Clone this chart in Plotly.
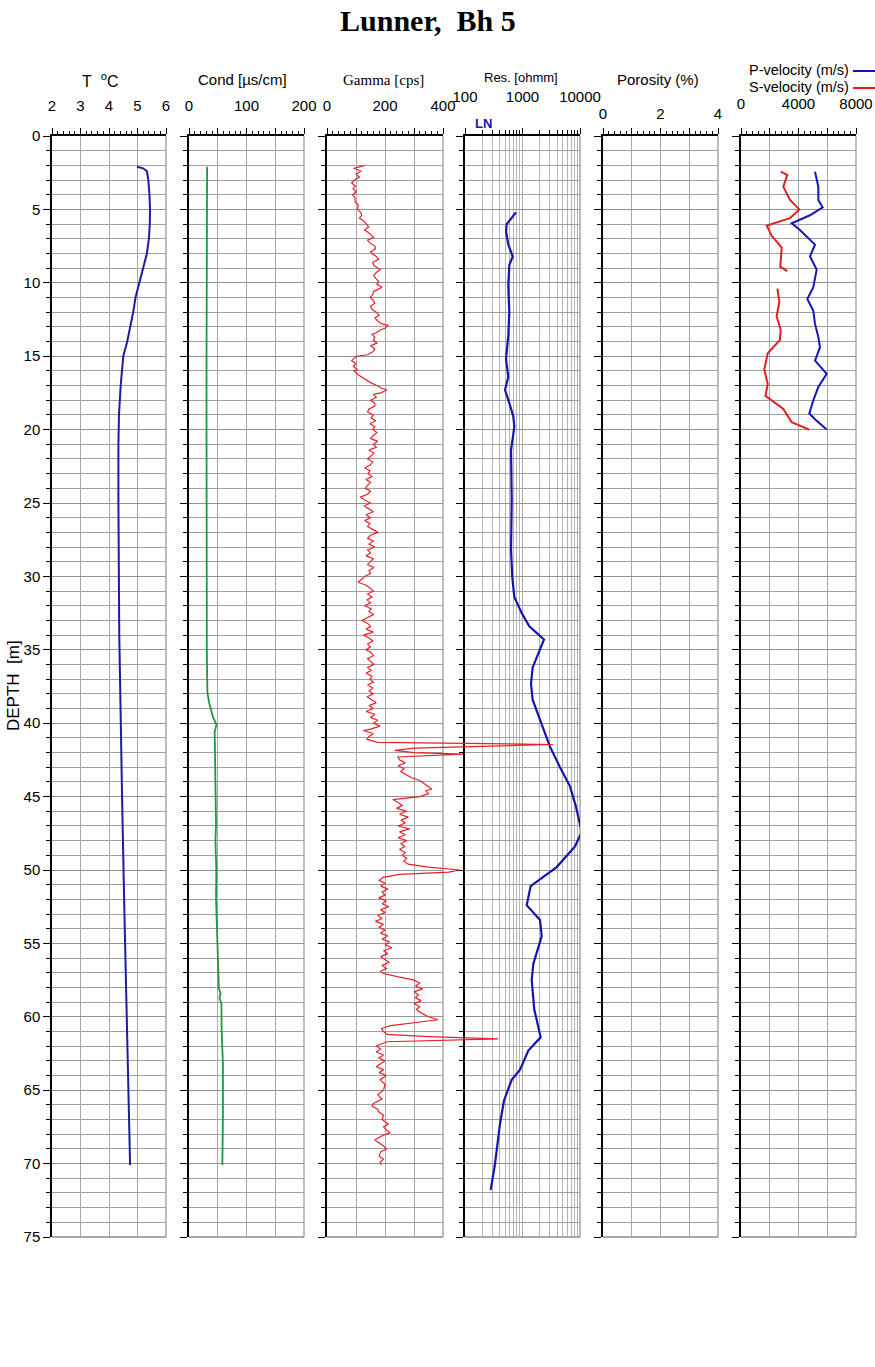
import plotly.graph_objects as go

# ---------------- data ----------------
temp_depth = [2.1, 2.2, 2.4, 3.0, 4.0, 5.0, 6.0, 7.0, 8.0, 9.0, 10.0, 11.0, 12.0, 13.4, 14.0,
              15.0, 16.0, 17.0, 19.0, 21.0, 25.0, 29.5, 34.0, 38.4, 40.0, 45.2, 52.0, 58.9, 65.7, 70.1]
temp_val = [4.98, 5.2, 5.33, 5.38, 5.42, 5.44, 5.43, 5.40, 5.33, 5.2, 5.06, 4.93, 4.85, 4.71, 4.64,
            4.50, 4.45, 4.41, 4.35, 4.33, 4.33, 4.34, 4.36, 4.40, 4.42, 4.46, 4.53, 4.62, 4.70, 4.74]

cond_depth = [2.1, 5, 10, 15, 20, 25, 30, 35, 37.9, 38.6, 39.2, 39.6, 40.1, 40.6, 41.5, 42.9, 44,
              46.9, 48, 50, 52, 54.3, 56, 57.2, 58.1, 58.4, 58.7, 59.1, 60.9, 63.2, 65.5, 66.9, 68.5, 70.1]
cond_val = [31.5, 31, 30.5, 30.5, 30.5, 30.5, 30.8, 31, 32, 35, 39, 42, 47.7, 44.6, 45, 45.4, 46,
            47, 46, 47.5, 47, 48.9, 49.5, 50.6, 52, 55, 53, 56.4, 56.7, 59, 59.4, 59, 58.5, 58]

gamma_depth = [
    2.0, 2.2, 2.4, 2.6, 2.8, 3.0, 3.2, 3.4, 3.6, 3.8, 4.0, 4.2, 4.5, 4.7, 5.0, 5.2, 5.4, 5.6, 5.8, 6.0,
    6.2, 6.4, 6.5, 6.7, 6.9, 7.1, 7.3, 7.5, 7.7, 7.9, 8.0, 8.2, 8.4, 8.6, 8.8, 9.0, 9.1, 9.3, 9.5, 9.7,
    9.9, 10.1, 10.3, 10.5, 10.6, 10.8, 11.0, 11.2, 11.4, 11.6, 11.8, 12.0, 12.2, 12.4, 12.6, 12.8, 12.9,
    13.1, 13.2, 13.4, 13.5, 13.7, 13.9, 14.1, 14.3, 14.5, 14.7, 14.9, 15.0, 15.2, 15.3, 15.5, 15.7, 15.9,
    16.0, 16.3, 16.5, 16.8, 17.0, 17.2, 17.3, 17.5, 17.6, 17.8, 18.0,
    18.2, 18.4, 18.6, 18.8, 19.0, 19.2, 19.4, 19.6, 19.8, 20.0, 20.2, 20.4, 20.6, 20.8, 21.0, 21.2, 21.4,
    21.6, 21.8, 22.0, 22.2, 22.4, 22.6, 22.8, 23.0, 23.2, 23.4, 23.6, 23.8, 24.0, 24.2, 24.4, 24.6, 24.8,
    25.0, 25.2, 25.4, 25.6, 25.8, 26.0, 26.2, 26.4, 26.6, 26.8, 27.0, 27.2, 27.4, 27.6, 27.8, 28.0, 28.2,
    28.4, 28.6, 28.8, 29.0, 29.2, 29.4, 29.6, 29.8, 30.0, 30.2, 30.4, 30.6, 30.8, 31.0, 31.2, 31.4, 31.6,
    31.8, 32.0, 32.2, 32.4, 32.6, 32.8, 33.0, 33.2, 33.4, 33.6, 33.8, 34.0, 34.2, 34.4, 34.6, 34.8, 35.0,
    35.2, 35.4, 35.6, 35.8, 36.0, 36.2, 36.4, 36.6, 36.8, 37.0, 37.2, 37.4, 37.6, 37.8,
    38.0, 38.2, 38.4, 38.6, 38.8, 39.0, 39.2, 39.4, 39.6, 39.8, 40.0, 40.2, 40.4, 40.5, 40.7, 40.9, 41.1,
    41.3, 41.45, 41.55, 41.7, 41.85, 42.0, 42.1, 42.2, 42.3, 42.5, 42.7, 42.9, 43.1, 43.3, 43.5, 43.7,
    43.9, 44.1, 44.3, 44.5, 44.6, 44.8, 45.0, 45.2, 45.4, 45.6, 45.8, 46.0, 46.2, 46.4, 46.6, 46.8, 47.0,
    47.2, 47.4, 47.6, 47.8, 48.0, 48.2, 48.4, 48.6, 48.8, 49.0, 49.2, 49.4, 49.6, 49.8, 50.0, 50.15,
    50.3, 50.5, 50.7, 50.9, 51.1, 51.3, 51.5, 51.7, 51.9, 52.1, 52.3, 52.5, 52.7, 52.9, 53.1, 53.3,
    53.5, 53.7, 53.9, 54.1, 54.3, 54.5, 54.7, 54.9, 55.1, 55.3, 55.5, 55.7, 55.9, 56.1, 56.3, 56.5,
    56.7, 56.9, 57.05, 57.3, 57.5, 57.7, 57.9, 58.1, 58.3, 58.5, 58.7, 58.9, 59.1, 59.3, 59.5, 59.8,
    60.0, 60.2, 60.4, 60.6, 60.8, 61.0, 61.2, 61.35, 61.5, 61.6, 61.7, 61.9, 62.0,
    62.2, 62.4, 62.6, 62.8, 63.0, 63.2, 63.4, 63.6, 63.8, 64.0, 64.3, 64.6, 65.0, 65.3, 65.6, 65.9,
    66.1, 66.3, 66.5, 66.7, 67.0, 67.3, 67.5, 67.7, 67.9, 68.1, 68.4, 68.6, 68.8, 69.0, 69.2, 69.5,
    69.7, 69.9, 70.1]
gamma_val = [
    131, 92, 118, 100, 112, 95, 85, 98, 90, 102, 88, 96, 97, 108, 105, 116, 120, 112, 128, 135,
    144, 128, 138, 150, 161, 140, 149, 165, 167, 150, 155, 170, 178, 158, 161, 175, 184, 170, 161, 168,
    178, 172, 190, 170, 160, 158, 149, 160, 165, 150, 155, 170, 180, 165, 175, 190, 211,
    200, 185, 170, 155, 165, 160, 172, 150, 165, 158, 140, 103, 90, 85, 100, 91, 105,
    93, 110, 126, 150, 172, 190, 207, 185, 160, 170, 150,
    165, 165, 145, 140, 160, 152, 168, 148, 165, 158, 172, 160, 150, 175, 160, 170, 145,
    162, 150, 140, 158, 150, 130, 148, 142, 155, 135, 150, 140, 132, 150, 140, 115, 130,
    150, 128, 145, 160, 135, 150, 130, 148, 140, 160, 176, 150, 140, 160, 145, 165, 140,
    150, 135, 160, 150, 140, 162, 145, 150, 130, 120, 107, 135, 150, 160, 140, 155, 138,
    150, 130, 152, 145, 160, 140, 120, 140, 150, 135, 160, 125, 145, 158, 140, 150, 135,
    152, 160, 140, 150, 162, 140, 152, 135, 155, 148, 160, 140, 158, 145,
    160, 138, 155, 170, 145, 160, 135, 165, 150, 175, 160, 183, 150, 125, 160, 145, 138,
    175, 780, 600, 300, 234, 300, 469, 360, 244, 250, 270, 245, 265, 255, 275, 290,
    320, 335, 350, 362, 340, 350, 320, 227, 245, 260, 240, 275, 250, 280, 255, 270, 245,
    285, 250, 270, 245, 275, 255, 268, 250, 270, 260, 275, 265, 280, 350, 458, 420,
    250, 193, 180, 200, 185, 210, 190, 200, 178, 205, 190, 213, 185, 200, 175, 190,
    167, 195, 180, 200, 185, 210, 190, 215, 200, 224, 195, 210, 185, 200, 215, 190,
    205, 185, 195, 250, 300, 320, 305, 330, 300, 315, 305, 325, 300, 320, 308, 330,
    350, 383, 300, 220, 188, 195, 207, 350, 590, 400, 207, 180, 170,
    185, 170, 195, 178, 200, 185, 170, 195, 180, 205, 183, 200, 195, 175, 190, 160,
    155, 175, 180, 195, 190, 211, 195, 205, 217, 190, 165, 180, 195, 205, 185, 180,
    195, 183, 187]

res_depth = [5.2, 6.0, 6.5, 7.4, 8.2, 8.8, 10.2, 12.0, 13.6, 15.2, 16.4, 17.3, 18.2, 19.1, 19.8, 21.4,
             24.8, 28.2, 30.0, 31.4, 32.5, 33.4, 34.3, 35.3, 36.2, 37.3, 38.4, 40.5, 41.6, 43.0, 44.3,
             45.7, 47.4, 48.4, 49.8, 51.1, 52.4, 53.4, 54.5, 56.4, 57.5, 59.5, 61.4, 62.3, 63.6, 64.3,
             65.7, 67.3, 70.0, 71.8]
res_val = [771, 531, 517, 567, 675, 590, 566, 590, 566, 517, 566, 497, 590, 692, 721, 632,
           649, 632, 662, 721, 968, 1313, 2366, 1884, 1503, 1405, 1500, 2366, 3006, 4490, 6700,
           8520, 10700, 8190, 3930, 1387, 1183, 2015, 2160, 1542, 1445, 1603, 2070, 1262, 905, 649,
           477, 406, 333, 280]

vp_depth = [2.43, 3.45, 4.36, 4.86, 5.4, 5.95, 6.4, 7.4, 8.2, 9.1, 10.3, 11.1, 11.9, 12.8, 13.7,
            14.4, 15.3, 16.2, 17.1, 18.0, 18.9, 19.3, 20.0]
vp_val = [5148, 5380, 5380, 5680, 4800, 3525, 4100, 5148, 4800, 5265, 5030, 4615, 5030, 5148, 5380,
          5495, 5150, 5960, 5380, 5030, 4750, 5148, 5960]

vs_depth = [2.43, 2.65, 3.45, 4.36, 5.0, 5.6, 6.1, 6.8, 7.6, 8.2, 8.9, 9.2, 9.8,
            10.4, 11.3, 12.3, 13.2, 13.9, 14.8, 15.9, 16.9, 17.7, 18.6, 19.5, 20.0]
vs_val = [2760, 3220, 2945, 3410, 4060, 3410, 1790, 2140, 2830, 2760, 2730, 3220, None,
          2530, 2670, 2480, 2760, 2700, 1860, 1620, 1860, 1700, 2945, 3525, 4750]

depth_ticks = list(range(0, 80, 5))
t_ticks = [2, 3, 4, 5, 6]
cond_ticks = [0, 50, 100, 150, 200]
cond_labels = ["0", "", "100", "", "200"]
gamma_ticks = [0, 100, 200, 300, 400]
gamma_labels = ["0", "", "200", "", "400"]
res_ticks = [100, 1000, 10000]
res_labels = ["100", "1000", "10000"]
por_ticks = [0, 1, 2, 3, 4]
por_labels = ["0", "", "2", "", "4"]
vel_ticks = [0, 2000, 4000, 6000, 8000]
vel_labels = ["0", "", "4000", "", "8000"]

# ---------------- layout helpers ----------------
W, H = 875, 1367
tracks_px = [(52, 166), (189, 304), (327, 443), (465, 580), (603, 718), (741, 856)]
TOP_PX, BOT_PX = 136, 1237
ydom = [1 - BOT_PX / H, 1 - TOP_PX / H]


def fx(px):
    return px / W


def fy(py):
    return 1 - py / H


SANS = "Liberation Sans, Arial, sans-serif"
SERIF = "Liberation Serif, Times New Roman, serif"

fig = go.Figure()

fig.add_trace(go.Scatter(x=temp_val, y=temp_depth, mode="lines", xaxis="x", yaxis="y",
                         line=dict(color="#1c1ca0", width=2)))
fig.add_trace(go.Scatter(x=cond_val, y=cond_depth, mode="lines", xaxis="x2", yaxis="y2",
                         line=dict(color="#23973f", width=1.8)))
fig.add_trace(go.Scatter(x=[None], y=[None], mode="lines", xaxis="x3", yaxis="y3"))
fig.add_trace(go.Scatter(x=res_val, y=res_depth, mode="lines", xaxis="x4", yaxis="y4",
                         line=dict(color="#1414b0", width=2.2)))
fig.add_trace(go.Scatter(x=[None], y=[None], mode="lines", xaxis="x5", yaxis="y5"))
fig.add_trace(go.Scatter(x=vp_val, y=vp_depth, mode="lines", xaxis="x6", yaxis="y6",
                         line=dict(color="#1515b5", width=2)))
fig.add_trace(go.Scatter(x=vs_val, y=vs_depth, mode="lines", xaxis="x6", yaxis="y6",
                         connectgaps=False, line=dict(color="#e02020", width=2)))
# gamma drawn on a wider hidden axis with the same scale so its spikes may run past its track
fig.add_trace(go.Scatter(x=gamma_val, y=gamma_depth, mode="lines", xaxis="x7", yaxis="y7",
                         line=dict(color="#e4222a", width=1.2)))

tickfont = dict(family=SANS, size=15, color="black")


def xaxis_cfg(i, rng, tickvals, ticktext, minor_dtick, standoff, log=False):
    l, r = tracks_px[i]
    cfg = dict(domain=[fx(l), fx(r)], anchor="y" if i == 0 else "y%d" % (i + 1),
               side="top", showline=True, linecolor="black", linewidth=1.5,
               ticks="outside", ticklen=6, tickwidth=1.2, tickcolor="black",
               tickvals=tickvals, ticktext=ticktext, tickfont=tickfont,
               ticklabelstandoff=standoff, automargin=False,
               showgrid=True, gridcolor="#a8a8a8", gridwidth=1, zeroline=False,
               fixedrange=True)
    if log:
        cfg.update(type="log", range=rng,
                   minor=dict(dtick="D1", ticks="outside", ticklen=4, tickcolor="black",
                              showgrid=True, gridcolor="#b4b4b4", gridwidth=1))
    else:
        cfg.update(range=rng,
                   minor=dict(dtick=minor_dtick, ticks="outside", ticklen=3, tickcolor="black",
                              showgrid=False))
    return cfg


def yaxis_cfg(i):
    cfg = dict(domain=ydom, anchor="x" if i == 0 else "x%d" % (i + 1),
               range=[75, 0], showline=True, linecolor="black", linewidth=1.5,
               ticks="outside", ticklen=7, tickwidth=1.2, tickcolor="black",
               tickvals=depth_ticks, showticklabels=(i == 0), tickfont=tickfont,
               automargin=False,
               showgrid=True, gridcolor="#939393", gridwidth=1.3, zeroline=False,
               minor=dict(dtick=1, tick0=0, ticks="outside", ticklen=4, tickcolor="black",
                          showgrid=True, gridcolor="#a0a0a0", gridwidth=1.3),
               fixedrange=True)
    if i > 0:
        cfg["matches"] = "y"
    return cfg


layout = dict(
    width=W, height=H, margin=dict(l=0, r=0, t=0, b=0, autoexpand=False),
    paper_bgcolor="white", plot_bgcolor="rgba(0,0,0,0)", showlegend=False,
    xaxis=xaxis_cfg(0, [2, 6], t_ticks, [str(v) for v in t_ticks], 0.2, 11),
    xaxis2=xaxis_cfg(1, [0, 200], cond_ticks, cond_labels, 10, 11),
    xaxis3=xaxis_cfg(2, [0, 400], gamma_ticks, gamma_labels, 20, 11),
    xaxis4=xaxis_cfg(3, [2, 4], res_ticks, res_labels, None, 20, log=True),
    xaxis5=xaxis_cfg(4, [0, 4], por_ticks, por_labels, 0.2, 3),
    xaxis6=xaxis_cfg(5, [0, 8000], vel_ticks, vel_labels, 400, 13),
)
for i in range(6):
    layout["yaxis" if i == 0 else "yaxis%d" % (i + 1)] = yaxis_cfg(i)

# hidden overlay pair for gamma: same scale as track 3, wider domain
g_l, g_r = tracks_px[2]
ov_r = 600
layout["xaxis7"] = dict(domain=[fx(g_l), fx(ov_r)], anchor="y7",
                        range=[0, 400 * (ov_r - g_l) / (g_r - g_l)], visible=False,
                        showgrid=False, zeroline=False, automargin=False, fixedrange=True)
layout["yaxis7"] = dict(domain=ydom, anchor="x7", range=[75, 0], visible=False, matches="y",
                        showgrid=False, zeroline=False, automargin=False, fixedrange=True)
fig.update_layout(**layout)

# right and bottom borders of each track
for i in range(6):
    xr = "x domain" if i == 0 else "x%d domain" % (i + 1)
    yr = "y domain" if i == 0 else "y%d domain" % (i + 1)
    fig.add_shape(type="line", xref=xr, yref=yr, x0=1, x1=1, y0=0, y1=1,
                  line=dict(color="#9a9a9a", width=1.3), layer="below")
    fig.add_shape(type="line", xref=xr, yref=yr, x0=0, x1=1, y0=0, y1=0,
                  line=dict(color="#8a8a8a", width=1.3), layer="below")

annots = [
    dict(text="<b>Lunner,\u00a0 Bh 5</b>", x=fx(428), y=fy(20), font=dict(family=SERIF, size=30)),
    dict(text="T\u00a0 <sup>o</sup>C", x=fx(100), y=fy(80), font=dict(family=SANS, size=16)),
    dict(text="Cond [\u00b5s/cm]", x=fx(243), y=fy(80), font=dict(family=SANS, size=15)),
    dict(text="Gamma [cps]", x=fx(383), y=fy(80), font=dict(family=SERIF, size=15)),
    dict(text="Res. [ohmm]", x=fx(521), y=fy(78), font=dict(family=SANS, size=13)),
    dict(text="Porosity (%)", x=fx(658), y=fy(80), font=dict(family=SANS, size=15)),
    dict(text="P-velocity (m/s)", x=fx(851), y=fy(70), xanchor="right", font=dict(family=SANS, size=14.5)),
    dict(text="S-velocity (m/s)", x=fx(851), y=fy(87), xanchor="right", font=dict(family=SANS, size=14.5)),
    dict(text="<b>LN</b>", x=fx(483), y=fy(123), font=dict(family=SANS, size=13, color="#1414b0")),
    dict(text="DEPTH  [m]", x=fx(13), y=fy(686), textangle=-90, font=dict(family=SANS, size=17)),
]
for a in annots:
    a.setdefault("xanchor", "center")
    a["font"].setdefault("color", "black")
    fig.add_annotation(xref="paper", yref="paper", yanchor="middle", showarrow=False, **a)

fig.add_shape(type="line", xref="paper", yref="paper", x0=fx(853), x1=fx(875), y0=fy(71), y1=fy(71),
              line=dict(color="#1515b5", width=2))
fig.add_shape(type="line", xref="paper", yref="paper", x0=fx(853), x1=fx(875), y0=fy(88), y1=fy(88),
              line=dict(color="#e02020", width=2))

fig.write_html("out.html")
